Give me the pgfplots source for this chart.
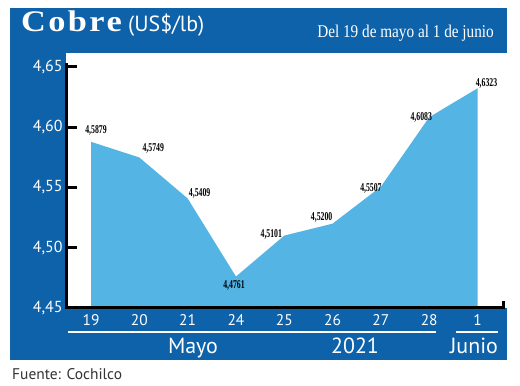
\documentclass[border=0pt]{standalone}
\usepackage{pgfplots}
\usepackage{pgfplotstable}
\pgfplotsset{compat=1.18}
\usepackage{fontspec}
\setmainfont{PT Sans}
\newfontfamily\titlefont[FakeStretch=1.15,LetterSpace=8]{Liberation Serif}
\newfontfamily\condserif[FakeStretch=0.85]{Liberation Serif}
\newfontfamily\labelfont[FakeStretch=0.65]{Liberation Serif}
\definecolor{frameblue}{RGB}{14,98,170}
\definecolor{fillblue}{RGB}{84,180,227}

\pgfplotstableread{
x y dx dy lab
0 4.5879 5 11 4,5879
1 4.5749 14 9.5 4,5749
2 4.5409 12 5.5 4,5409
3 4.4761 -2 -8.5 4,4761
4 4.5101 -13 1.5 4,5101
5 4.5200 -11 6.5 4,5200
6 4.5507 -10 -1.5 4,5507
7 4.6083 -8 0 4,6083
8 4.6323 9 5 4,6323
}\datatable

\begin{document}
\begin{tikzpicture}
\fill[frameblue] (10bp,26bp) rectangle (507bp,378bp);
\begin{axis}[
  at={(66bp,78bp)}, anchor=south west,
  scale only axis, width=441bp, height=255bp,
  xmin=-0.518, xmax=8.61, ymin=4.45, ymax=4.6616,
  axis background/.style={fill=white},
  axis y line*=left, axis x line*=bottom,
  axis line style={draw=none},
  clip mode=individual,
  xtick={0,...,8},
  xticklabels={19,20,21,24,25,26,27,28,1},
  x tick style={draw=none},
  xticklabel style={text=white, font=\fontsize{15.5}{16}\selectfont, yshift=-3bp},
  ytick={4.45,4.50,4.55,4.60,4.65},
  y tick style={draw=none},
  yticklabel style={text=white, font=\fontsize{16}{16}\selectfont,
    /pgf/number format/.cd, use comma, fixed, fixed zerofill, precision=2, assume math mode=true},
]
\addplot[fill=fillblue, draw=none] table[x=x, y=y] {\datatable} \closedcycle;
\addplot[draw=none, mark=none,
  point meta=explicit symbolic,
  visualization depends on={\thisrow{dx}\as\dx},
  visualization depends on={\thisrow{dy}\as\dy},
  nodes near coords,
  every node near coord/.append style={anchor=center, xshift=\dx, yshift=\dy,
    font=\labelfont\bfseries\fontsize{12}{12}\selectfont, text=black, inner sep=0pt},
] table[x=x, y=y, meta=lab] {\datatable};
\coordinate (A) at (axis cs:-0.5,4.6535);
\coordinate (O) at (axis cs:-0.5,4.45);
\coordinate (E) at (axis cs:8.53,4.45);
\coordinate (T1) at (axis cs:-0.5,4.45);
\coordinate (T2) at (axis cs:-0.5,4.50);
\coordinate (T3) at (axis cs:-0.5,4.55);
\coordinate (T4) at (axis cs:-0.5,4.60);
\coordinate (T5) at (axis cs:-0.5,4.65);
\end{axis}
\draw[line width=3bp, black] (A) -- (O) -- (E) -- ++(0bp,7bp);
\foreach \t in {1,...,5} {\draw[line width=3bp, black] (T\t) -- ++(10bp,0bp);}
\node[anchor=base west, inner sep=0, text=white] at (21bp,354bp) {\titlefont\bfseries\fontsize{30}{30}\selectfont Cobre};
\node[anchor=base west, inner sep=0, text=white] at (128bp,354bp) {\fontsize{22}{22}\selectfont (US\$/lb)};
\node[anchor=base east, inner sep=0, text=white] at (494bp,348bp) {\condserif\fontsize{18}{18}\selectfont Del 19 de mayo al 1 de junio};
\draw[white, line width=1.3bp] (68bp,54bp) -- (436bp,54bp);
\draw[white, line width=1.3bp] (456bp,54bp) -- (498bp,54bp);
\node[anchor=base, inner sep=0, text=white, font=\fontsize{22}{22}\selectfont] at (193bp,33bp) {Mayo};
\node[anchor=base, inner sep=0, text=white, font=\fontsize{22}{22}\selectfont] at (355bp,33bp) {2021};
\node[anchor=base, inner sep=0, text=white, font=\fontsize{22}{22}\selectfont] at (474bp,33bp) {Junio};
\node[anchor=base west, inner sep=0, text=black!80, font=\fontsize{15.5}{16}\selectfont] at (12bp,7bp) {Fuente: Cochilco};
\pgfresetboundingbox
\path (0bp,0bp) rectangle (520bp,386bp);
\end{tikzpicture}
\end{document}
